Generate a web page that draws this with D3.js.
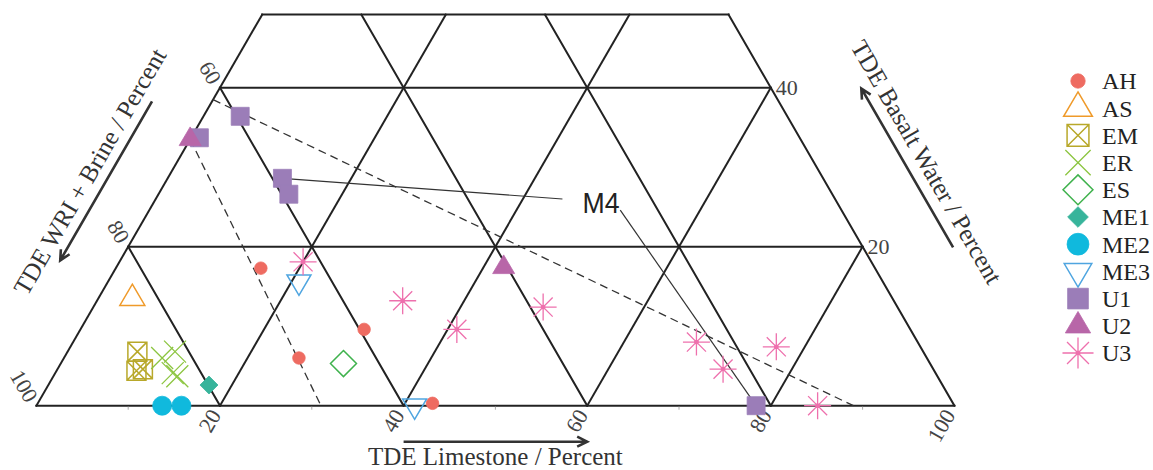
<!DOCTYPE html>
<html>
<head>
<meta charset="utf-8">
<script src="https://cdn.jsdelivr.net/npm/d3@7"></script>
<style>
  body { margin: 0; background: #fff; }
  svg { display: block; }
</style>
</head>
<body>
<div id="chart"></div>
<script>
// each point is [limestone %, basalt water %]; WRI + brine is the rest
const groups = ["AH", "AS", "EM", "ER", "ES", "ME1", "ME2", "ME3", "U1", "U2", "U3"];
const AH  = [[15.8, 17.3], [25.6, 6.0], [30.9, 9.6], [43.0, 0.3]];
const AS  = [[3.7, 13.5]];
const EM  = [[7.6, 6.8], [8.7, 4.4], [9.3, 4.6]];
const ER  = [[10.7, 6.0], [11.7, 6.8], [12.8, 4.1], [13.5, 3.7]];
const ES  = [[30.8, 5.3]];
const ME1 = [[17.5, 2.6]];
const ME2 = [[13.7, 0], [15.8, 0]];
const ME3 = [[20.8, 15.6], [41.2, 0]];
const U1  = [[4.0, 36.4], [0.9, 33.7], [12.5, 28.6], [14.2, 26.6], [78.4, 0]];
const U2  = [[0, 33.5], [42.2, 17.4]];
const U3  = [[20.0, 18.1], [33.3, 13.2], [41.0, 9.6], [49.0, 12.4], [67.9, 8.0], [72.5, 4.6], [76.9, 7.4], [85.1, 0]];
const points = { AH, AS, EM, ER, ES, ME1, ME2, ME3, U1, U2, U3 };

// mixing lines (dashed) and the M4 call-out
const mixLines = [[[0, 38.5], [89, 0]], [[0, 33.5], [31, 0]]];
const m4At = [48.7, 25.6];
const m4Lines = [[U1[2], [44.3, 26.0]], [[51.3, 24.6], U1[4]]];

const gridSteps = [0, 20, 40, 60, 80];
const topCut = 49.2;
const bottomTicks = [20, 40, 60, 80, 100];
const leftTicks = [60, 80, 100];
const rightTicks = [40, 20];
const minorTicks = [10, 30, 50, 70, 90];

const colors = {
  AH: "#ee6b61", AS: "#ef9a2a", EM: "#b8a82a", ER: "#8cc540", ES: "#3fb24d",
  ME1: "#37b49b", ME2: "#10b9dd", ME3: "#4fa5e0", U1: "#9b7db8", U2: "#b866a8", U3: "#ee70ad"
};
const style = {
  AH: { shape: "circle", size: 12.5, filled: true },
  AS: { shape: "triUp", size: 25, filled: false },
  EM: { shape: "boxX", size: 19, filled: false },
  ER: { shape: "cross", size: 22, filled: false },
  ES: { shape: "diamond", size: 26, filled: false },
  ME1: { shape: "diamond", size: 18, filled: true },
  ME2: { shape: "circle", size: 19, filled: true },
  ME3: { shape: "triDown", size: 24, filled: false },
  U1: { shape: "square", size: 18, filled: true },
  U2: { shape: "triUp", size: 22, filled: true },
  U3: { shape: "star", size: 27, filled: false }
};

const width = 1153, height = 470;
const x0 = 36.4, y0 = 405.7, side = 918;
const serif = "'Liberation Serif', 'Times New Roman', serif";

const svg = d3.select("#chart").append("svg")
  .attr("width", width).attr("height", height);
svg.append("rect").attr("width", width).attr("height", height).attr("fill", "#fff");

const xs = d3.scaleLinear().domain([0, 100]).range([x0, x0 + side]);
const ys = d3.scaleLinear().domain([0, 100]).range([y0, y0 - side * Math.sqrt(3) / 2]);
const pt = (d) => [xs(d[0] + d[1] / 2), ys(d[1])];
const line = d3.line().x(d => pt(d)[0]).y(d => pt(d)[1]);

// grid, clipped at the top cut
var gridLines = [];
gridSteps.filter(c => c < topCut).forEach(c => gridLines.push([[0, c], [100 - c, c]]));
gridLines.push([[0, topCut], [100 - topCut, topCut]]);
gridSteps.forEach(b => gridLines.push([[b, 0], [b, Math.min(100 - b, topCut)]]));
gridSteps.forEach(a => {
  const c = Math.min(100 - a, topCut);
  gridLines.push([[100 - a, 0], [100 - a - c, c]]);
});

const g = svg.append("g");
g.selectAll(".grid").data(gridLines).enter().append("path")
  .attr("class", "grid")
  .attr("d", line)
  .attr("fill", "none")
  .attr("stroke", "#222")
  .attr("stroke-width", 2)
  .attr("stroke-linecap", "square");

g.selectAll(".minor").data(minorTicks).enter().append("line")
  .attr("class", "minor")
  .attr("x1", d => xs(d)).attr("x2", d => xs(d))
  .attr("y1", y0 + 1).attr("y2", y0 + 4)
  .attr("stroke", "#aaa").attr("stroke-width", 1);

// tick labels
const tickText = svg.append("g")
  .style("font-family", serif).style("font-size", "22px").attr("fill", "#444");
tickText.selectAll(".tb").data(bottomTicks).enter().append("text")
  .attr("transform", d => { const p = pt([d, 0]); return `translate(${p[0] - 5},${p[1] + 5.5}) rotate(-60)`; })
  .attr("text-anchor", "end").attr("dy", "0.35em")
  .text(d => d);
tickText.selectAll(".tl").data(leftTicks).enter().append("text")
  .attr("transform", d => { const p = pt([0, 100 - d]); return `translate(${p[0] - 4},${p[1] - 5.5}) rotate(60)`; })
  .attr("text-anchor", "end").attr("dy", "0.35em")
  .text(d => d);
tickText.selectAll(".tr").data(rightTicks).enter().append("text")
  .attr("x", d => pt([100 - d, d])[0] + 5)
  .attr("y", d => pt([100 - d, d])[1])
  .attr("dy", "0.35em")
  .text(d => d);

// mixing lines and call-out
g.selectAll(".mix").data(mixLines).enter().append("path")
  .attr("d", line).attr("fill", "none")
  .attr("stroke", "#333").attr("stroke-width", 1.3)
  .attr("stroke-dasharray", "8,5");
g.selectAll(".m4").data(m4Lines).enter().append("path")
  .attr("d", line).attr("fill", "none")
  .attr("stroke", "#333").attr("stroke-width", 1.2);
svg.append("text")
  .attr("x", pt(m4At)[0]).attr("y", pt(m4At)[1])
  .attr("dy", "0.35em").attr("text-anchor", "middle")
  .attr("textLength", 37).attr("lengthAdjust", "spacingAndGlyphs")
  .style("font-family", "'Liberation Sans', Arial, sans-serif")
  .style("font-size", "30px").attr("fill", "#222")
  .text("M4");

// marker shapes
function markerPath(shape, s) {
  const h = s / 2;
  switch (shape) {
    case "circle": return d3.symbol(d3.symbolCircle, Math.PI * h * h)();
    case "square": return `M${-h},${-h}h${s}v${s}h${-s}Z`;
    case "boxX": return `M${-h},${-h}h${s}v${s}h${-s}Z M${-h},${-h}L${h},${h} M${h},${-h}L${-h},${h}`;
    case "cross": return `M${-h},${-h}L${h},${h} M${h},${-h}L${-h},${h}`;
    case "diamond": return `M0,${-h}L${h},0L0,${h}L${-h},0Z`;
    case "triUp": { const t = s * 0.85; return `M0,${-t * 2 / 3}L${h},${t / 3}L${-h},${t / 3}Z`; }
    case "triDown": { const t = s * 0.85; return `M0,${t * 2 / 3}L${h},${-t / 3}L${-h},${-t / 3}Z`; }
    case "star": {
      let p = "";
      for (let i = 0; i < 4; i++) {
        const a = i * Math.PI / 4, dx = Math.cos(a) * h, dy = Math.sin(a) * h;
        p += `M${-dx},${-dy}L${dx},${dy}`;
      }
      return p + "M1.8,0A1.8,1.8 0 1,1 -1.8,0A1.8,1.8 0 1,1 1.8,0";
    }
  }
}

function drawMarker(sel, key, scale) {
  const st = style[key];
  sel.attr("d", markerPath(st.shape, st.size * scale))
    .attr("fill", st.filled || st.shape === "star" ? colors[key] : "none")
    .attr("stroke", colors[key])
    .attr("stroke-width", st.filled ? 0.8 : (st.shape === "star" || st.shape === "cross" ? 1.3 : 1.5))
    .attr("stroke-linejoin", "miter");
}

const gm = svg.append("g");
groups.forEach(key => {
  gm.selectAll(".m-" + key).data(points[key]).enter().append("path")
    .attr("class", "m-" + key)
    .attr("transform", d => `translate(${pt(d)[0]},${pt(d)[1]})`)
    .call(drawMarker, key, 1);
});

// axis arrows and titles
const leftN = [-Math.sqrt(3) / 2, -0.5], rightN = [Math.sqrt(3) / 2, -0.5];
const off = (p, n, k) => [p[0] + n[0] * k, p[1] + n[1] * k];

function arrow(from, to) {
  const dx = to[0] - from[0], dy = to[1] - from[1], len = Math.hypot(dx, dy);
  const ux = dx / len, uy = dy / len, a = 10, w = 5;
  const hx = to[0] - ux * a, hy = to[1] - uy * a;
  svg.append("path")
    .attr("d", `M${from[0]},${from[1]}L${to[0]},${to[1]} M${hx - uy * w},${hy + ux * w}L${to[0]},${to[1]}L${hx + uy * w},${hy - ux * w}`)
    .attr("fill", "none").attr("stroke", "#333").attr("stroke-width", 2.6);
}

arrow(off(pt([0, 35]), leftN, 52), off(pt([0, 15]), leftN, 52));
arrow(off(pt([85, 15]), rightN, 78), off(pt([65, 35]), rightN, 78));
arrow([xs(40), y0 + 36], [xs(60), y0 + 36]);

const titles = svg.append("g")
  .style("font-family", serif).style("font-size", "25px").attr("fill", "#333")
  .attr("text-anchor", "middle");
const lt = off(pt([0, 25]), leftN, 71);
titles.append("text")
  .attr("transform", `translate(${lt[0]},${lt[1]}) rotate(-60)`)
  .attr("dy", "0.35em").text("TDE WRI + Brine / Percent");
const rt = off(pt([75.5, 24.5]), rightN, 98);
titles.append("text")
  .attr("transform", `translate(${rt[0]},${rt[1]}) rotate(60)`)
  .attr("dy", "0.35em").text("TDE Basalt Water / Percent");
titles.append("text")
  .attr("x", xs(50)).attr("y", y0 + 51)
  .attr("dy", "0.35em").text("TDE Limestone / Percent");

// legend
const legend = svg.append("g").attr("transform", "translate(1078,81)");
const ly = d3.scalePoint().domain(groups).range([0, 272]);
const item = legend.selectAll(".item").data(groups).enter().append("g")
  .attr("transform", d => `translate(0,${ly(d)})`);
item.append("path").each(function (d) {
  d3.select(this).call(drawMarker, d, 1.15);
});
item.append("text")
  .attr("x", 24).attr("dy", "0.35em")
  .style("font-family", serif).style("font-size", "24px").attr("fill", "#222")
  .text(d => d);
</script>
</body>
</html>
